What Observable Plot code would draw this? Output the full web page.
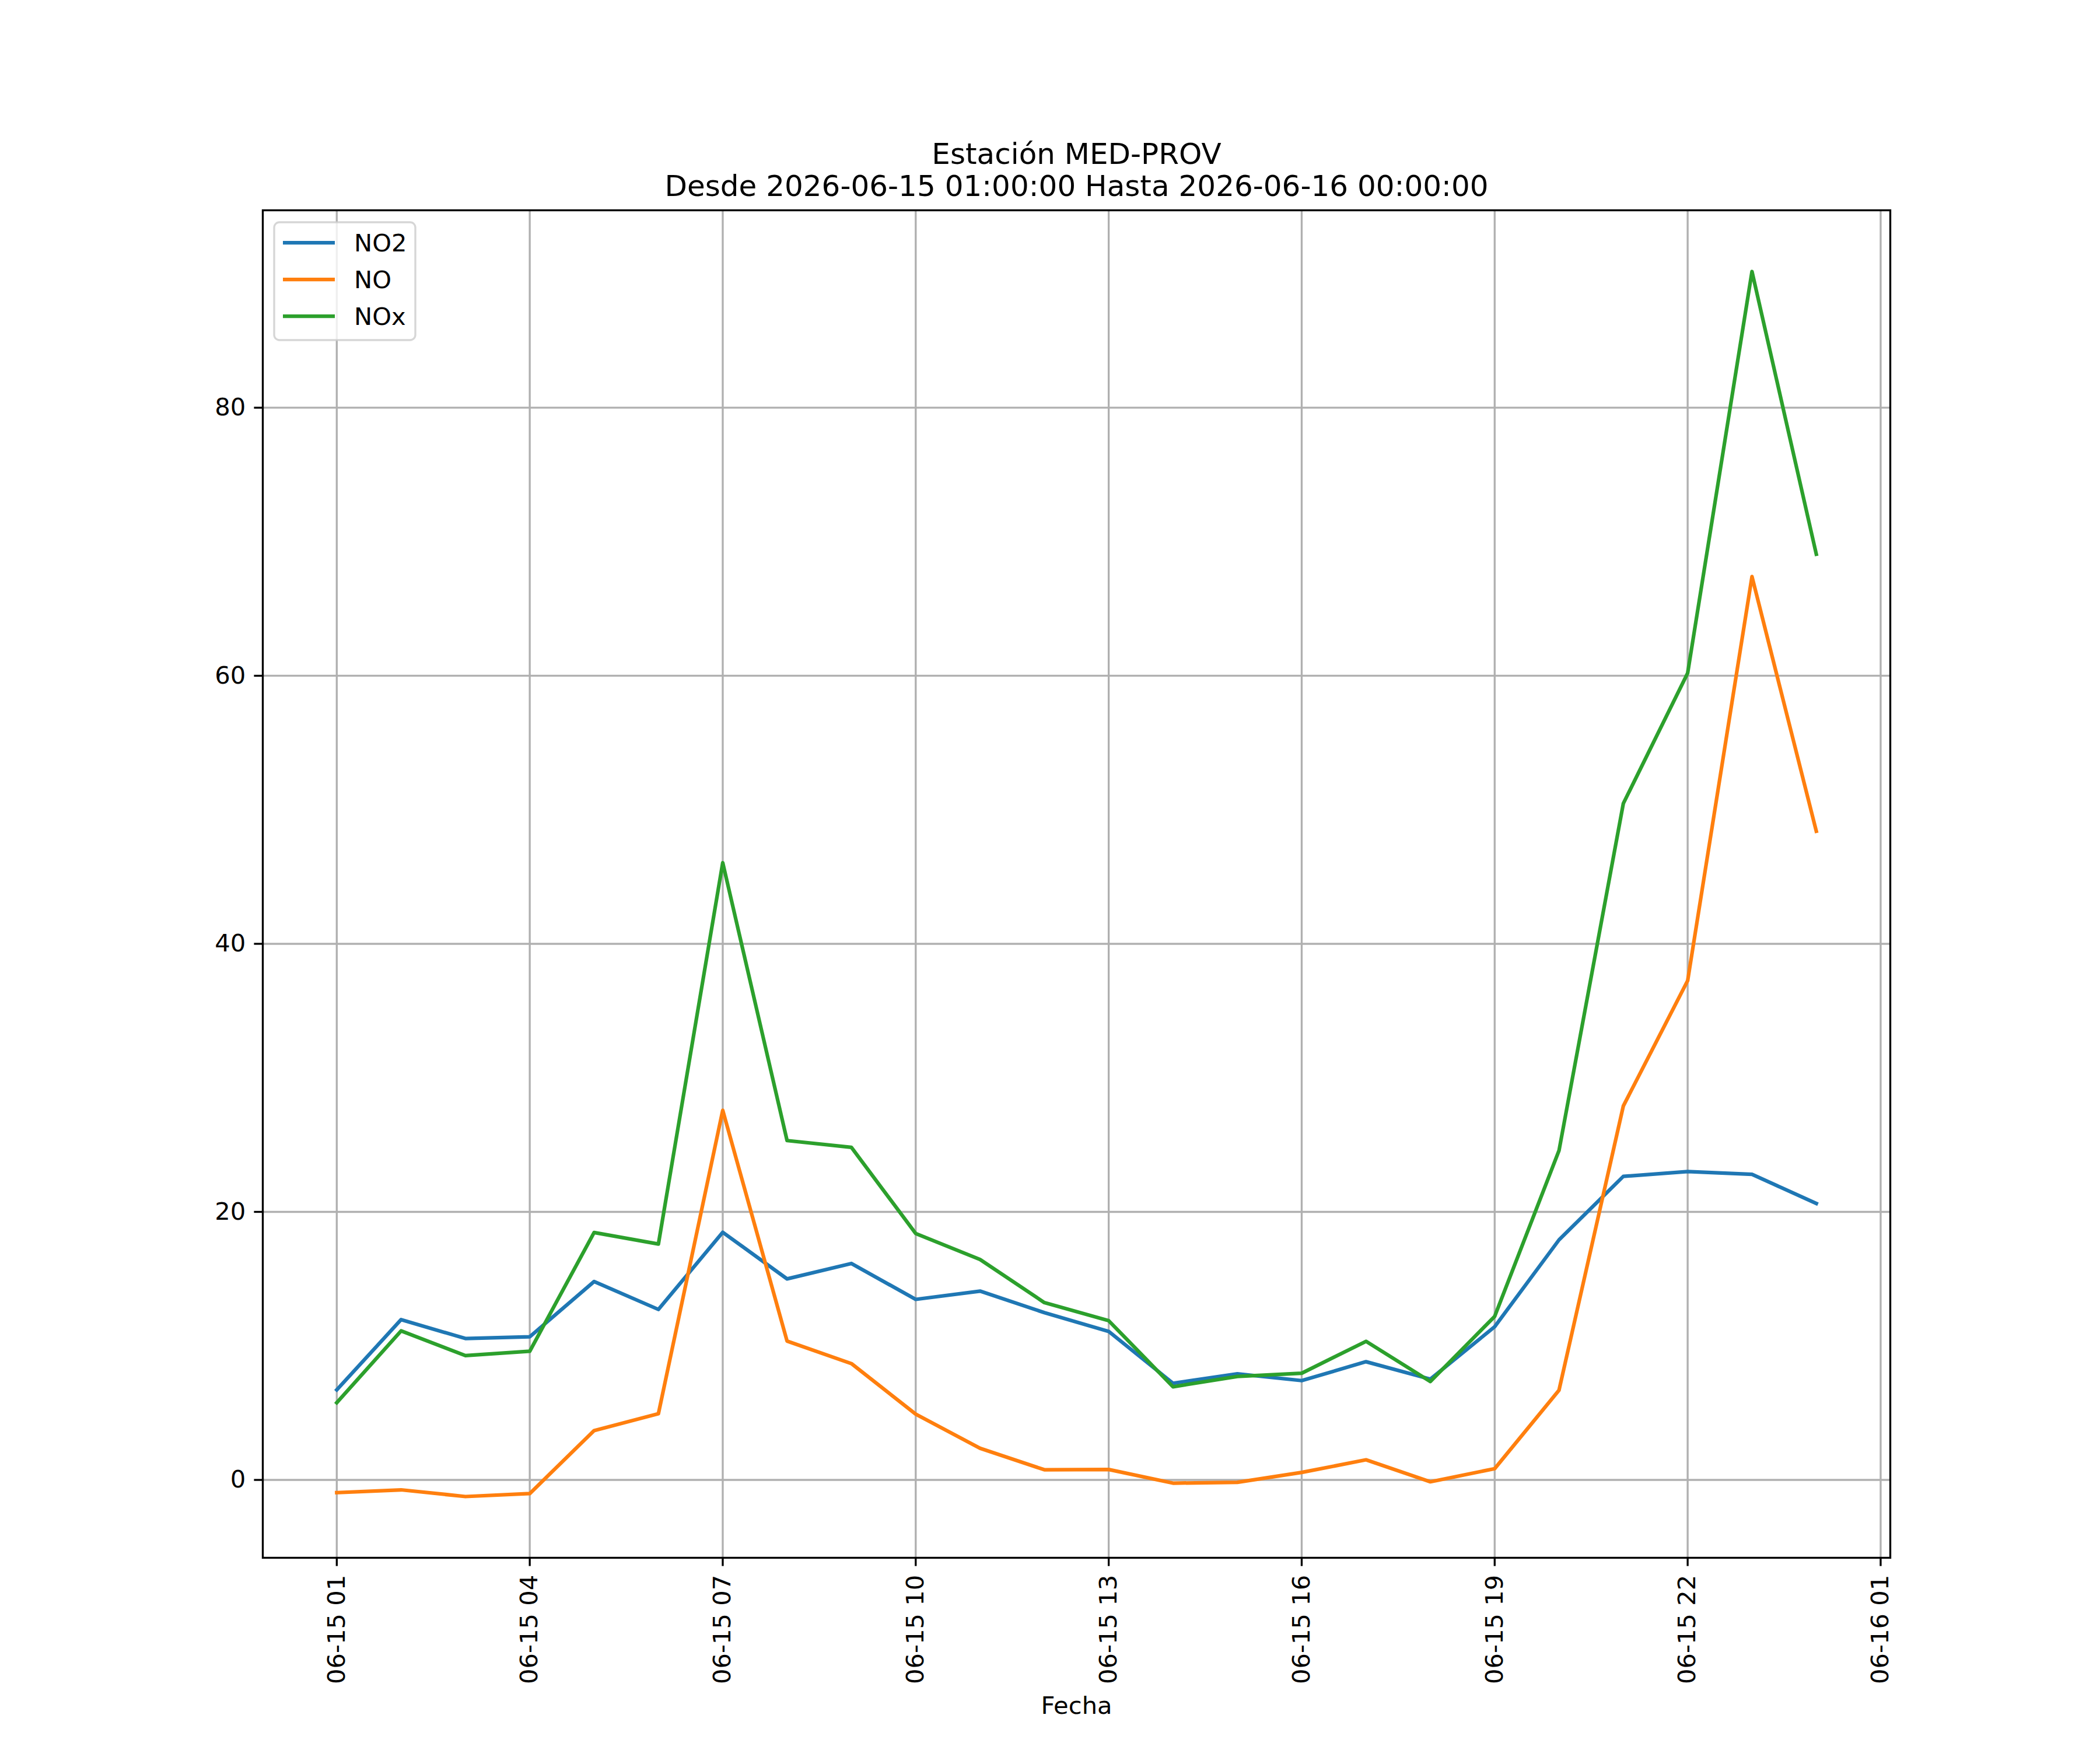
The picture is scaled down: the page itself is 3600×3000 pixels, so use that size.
<!DOCTYPE html>
<html><head><meta charset="utf-8">
<script src="https://cdn.jsdelivr.net/npm/d3@7"></script>
<script src="https://cdn.jsdelivr.net/npm/@observablehq/plot@0.6"></script>
<style>
html,body{margin:0;padding:0;background:#fff;}
#wrap{position:relative;width:3600px;height:3000px;font-family:"DejaVu Sans";}
#wrap svg{display:block;}
#legend{position:absolute;left:0;top:0;pointer-events:none;}
</style></head><body>
<div id="wrap"></div>
<script>
const fechas = [
  "2026-06-15T01:00:00Z","2026-06-15T02:00:00Z","2026-06-15T03:00:00Z","2026-06-15T04:00:00Z",
  "2026-06-15T05:00:00Z","2026-06-15T06:00:00Z","2026-06-15T07:00:00Z","2026-06-15T08:00:00Z",
  "2026-06-15T09:00:00Z","2026-06-15T10:00:00Z","2026-06-15T11:00:00Z","2026-06-15T12:00:00Z",
  "2026-06-15T13:00:00Z","2026-06-15T14:00:00Z","2026-06-15T15:00:00Z","2026-06-15T16:00:00Z",
  "2026-06-15T17:00:00Z","2026-06-15T18:00:00Z","2026-06-15T19:00:00Z","2026-06-15T20:00:00Z",
  "2026-06-15T21:00:00Z","2026-06-15T22:00:00Z","2026-06-15T23:00:00Z","2026-06-16T00:00:00Z"
];
const no2 = [6.72, 11.96, 10.55, 10.68, 14.80, 12.72, 18.48, 15.00, 16.15, 13.47, 14.09, 12.48,
             11.08, 7.21, 7.92, 7.41, 8.82, 7.52, 11.43, 17.91, 22.65, 23.01, 22.80, 20.63];
const no  = [-0.95, -0.74, -1.24, -1.02, 3.68, 4.94, 27.58, 10.36, 8.68, 4.91, 2.36, 0.76,
             0.78, -0.24, -0.18, 0.56, 1.50, -0.14, 0.84, 6.69, 27.90, 37.25, 67.40, 48.40];
const nox = [5.76, 11.12, 9.28, 9.60, 18.46, 17.60, 46.05, 25.32, 24.81, 18.38, 16.45, 13.23,
             11.88, 6.95, 7.72, 7.96, 10.34, 7.34, 12.20, 24.57, 50.47, 60.20, 90.16, 69.07];
const series = ["NO2", "NO", "NOx"];
const colores = ["#1f77b4", "#ff7f0e", "#2ca02c"];
const xTicks = [
  "2026-06-15T01:00:00Z","2026-06-15T04:00:00Z","2026-06-15T07:00:00Z","2026-06-15T10:00:00Z",
  "2026-06-15T13:00:00Z","2026-06-15T16:00:00Z","2026-06-15T19:00:00Z","2026-06-15T22:00:00Z",
  "2026-06-16T01:00:00Z"
];
const yTicks = [0, 20, 40, 60, 80];
const titulo = ["Estación MED-PROV", "Desde 2026-06-15 01:00:00 Hasta 2026-06-16 00:00:00"];
const xLabel = "Fecha";

const valores = [no2, no, nox];
const fechasD = fechas.map(s => new Date(s));
const xTicksD = xTicks.map(s => new Date(s));
const tabla = [];
series.forEach((s, i) => fechasD.forEach((f, j) => tabla.push({fecha: f, valor: valores[i][j], serie: s})));

// matplotlib-like autoscale with 5% margins
const xExt = d3.extent(fechasD);
const xPad = (xExt[1] - xExt[0]) * 0.05;
const xDomain = [new Date(+xExt[0] - xPad), new Date(+xExt[1] + xPad)];
const yExt = d3.extent(tabla, d => d.valor);
const yPad = (yExt[1] - yExt[0]) * 0.05;
const yDomain = [yExt[0] - yPad, yExt[1] + yPad];

const FS = 41.67;
const LW = 3.33;
const fmt = d3.utcFormat("%m-%d %H");

const chart = Plot.plot({
  width: 3600,
  height: 3000,
  marginLeft: 450,
  marginRight: 360,
  marginTop: 360,
  marginBottom: 330,
  style: {fontFamily: "'DejaVu Sans'", background: "white", color: "black", overflow: "visible"},
  x: {type: "utc", domain: xDomain},
  y: {domain: yDomain},
  color: {domain: series, range: colores},
  marks: [
    Plot.gridX(xTicksD, {stroke: "#b0b0b0", strokeOpacity: 1, strokeWidth: LW}),
    Plot.gridY(yTicks, {stroke: "#b0b0b0", strokeOpacity: 1, strokeWidth: LW}),
    Plot.lineY(tabla, {x: "fecha", y: "valor", z: "serie", stroke: "serie", strokeWidth: 6.25,
                       strokeLinejoin: "round", strokeLinecap: "square"}),
    Plot.frame({stroke: "black", strokeWidth: LW}),
    Plot.axisX({ticks: xTicksD, tickFormat: fmt, tickSize: 14.6, tickPadding: 14.6, tickRotate: -90,
                fontSize: FS, strokeWidth: LW, label: null}),
    Plot.axisY({ticks: yTicks, tickFormat: d => String(d), tickSize: 14.6, tickPadding: 14.6,
                fontSize: FS, strokeWidth: LW, label: null}),
    Plot.text([titulo.join("\n")], {frameAnchor: "top", lineAnchor: "bottom", dy: -25,
                fontSize: 50, lineHeight: 1.1, fill: "black"}),
    Plot.text([xLabel], {frameAnchor: "bottom", lineAnchor: "bottom", dy: 267, fontSize: FS, fill: "black"})
  ]
});

const wrap = document.getElementById("wrap");
wrap.appendChild(chart);

// legend (upper left, matplotlib style)
const leg = d3.select(wrap).append("svg").attr("id", "legend")
  .attr("width", 3600).attr("height", 3000)
  .style("font-family", "'DejaVu Sans'");
leg.append("rect").attr("x", 470).attr("y", 381).attr("width", 242).attr("height", 202)
  .attr("rx", 9).attr("fill", "white").attr("fill-opacity", 0.8)
  .attr("stroke", "#cccccc").attr("stroke-opacity", 0.8).attr("stroke-width", LW);
series.forEach((s, i) => {
  const cy = 416 + i * 63;
  leg.append("line").attr("x1", 485).attr("x2", 574).attr("y1", cy).attr("y2", cy)
    .attr("stroke", colores[i]).attr("stroke-width", 6.25);
  leg.append("text").attr("x", 607).attr("y", cy + 15).attr("font-size", FS).attr("fill", "black").text(s);
});
</script>
</body></html>
